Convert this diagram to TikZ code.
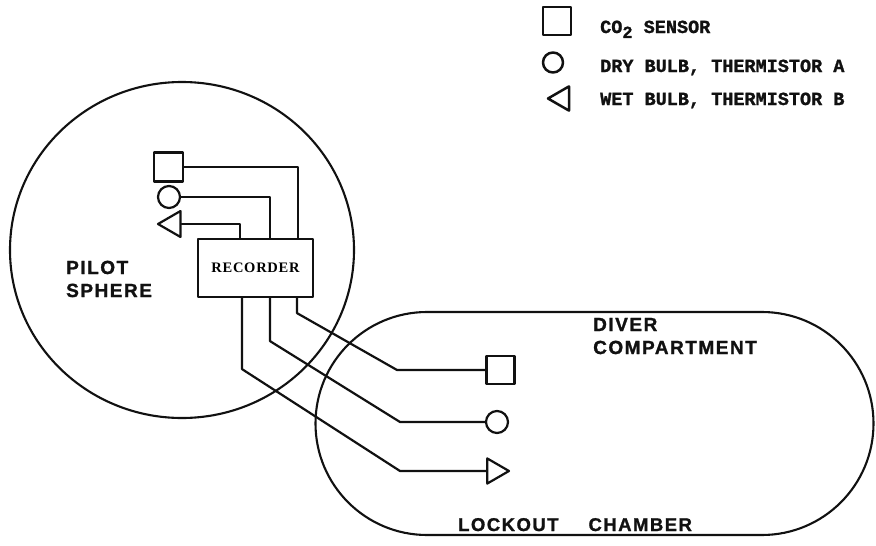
\documentclass[tikz,border=0pt]{standalone}
\usepackage{fontspec}
\setmainfont{Liberation Serif}
\newfontfamily\legendfont[FakeBold=1.2]{Liberation Mono}
\newfontfamily\labelfont[LetterSpace=8, FakeBold=1.2]{Liberation Sans}
\newfontfamily\recfont[LetterSpace=5]{Liberation Serif}
\usetikzlibrary{
  calc,
  shapes.geometric,
  shapes.misc
}
\definecolor{inkC}{HTML}{111111}
\definecolor{paperC}{HTML}{FFFFFF}

\tikzset{
  hull/.style={draw=inkC, line width=2.1pt, inner sep=0pt},
  wire/.style={draw=inkC, line width=2.2pt},
  sqSensor/.style={rectangle, draw=inkC, line width=2.2pt, inner sep=0pt, minimum size=#1},
  sqSensor/.default=28,
  ciSensor/.style={circle, draw=inkC, line width=2.2pt, inner sep=0pt, minimum size=#1},
  ciSensor/.default=22,
  trSensor/.style={regular polygon, regular polygon sides=3, shape border rotate=#1,
    draw=inkC, line width=2.2pt, inner sep=0pt, minimum size=30},
  keyText/.style={anchor=base west, inner sep=0pt, text=inkC,
    font=\legendfont\bfseries\fontsize{18.5}{22}\selectfont},
  roomText/.style={anchor=base west, inner sep=0pt, text=inkC, align=left,
    font=\labelfont\bfseries\fontsize{19}{23}\selectfont}
}

\begin{document}
\begin{tikzpicture}[
  x=1pt,
  y=-1pt,
  line cap=round,
  line join=round
]

\fill[paperC] (0,0) rectangle (876,546);
\path[use as bounding box] (0,0) rectangle (876,546);

% Hulls: pilot sphere and lockout chamber.
\node[hull, ellipse, minimum width=344, minimum height=336] (pilot) at (182,250) {};
\node[hull, rounded rectangle, minimum width=558, minimum height=223] (lockout) at (594.5,423.5) {};

% Recorder.
\node[hull, line width=2.2pt, rectangle, minimum width=115, minimum height=58,
  font=\recfont\bfseries\fontsize{14.5}{18}\selectfont] (rec) at (255.5,268) {RECORDER};

% Sensors in the pilot sphere.
\node[sqSensor=29] (sqA) at (168.5,167) {};
\node[ciSensor] (ciA) at (169,197) {};
\node[trSensor=90] (trA) at (173,224) {};

% Sensors in the diver compartment.
\node[sqSensor=28] (sqB) at (500.5,370) {};
\node[ciSensor] (ciB) at (497,422) {};
\node[trSensor=-90, minimum size=29] (trB) at (494.5,471) {};

% Leads to the recorder.
\draw[wire] (sqA.east) -| ([xshift=42.5pt]rec.north);
\draw[wire] (ciA.east) -| ([xshift=14.5pt]rec.north);
\draw[wire] (trA.east) -| ([xshift=-15.5pt]rec.north);

\draw[wire] ([xshift=41.5pt]rec.south) -- ++(0,15) -- (397,370) -- (sqB.west);
\draw[wire] ([xshift=14.5pt]rec.south) -- ++(0,43) -- (400,422) -- (ciB.west);
\draw[wire] ([xshift=-13.5pt]rec.south) -- ++(0,71) -- (400,471) -- (trB.west);

% Room labels.
\node[roomText] (pilotLbl) at (66,297) {PILOT\\SPHERE};
\node[roomText] (diverLbl) at (593,354) {DIVER\\COMPARTMENT};
\node[roomText, font=\labelfont\bfseries\fontsize{18.5}{22}\selectfont]
  (lockLbl) at (458,531) {LOCKOUT\hspace{30pt}CHAMBER};

% Key.
\node[sqSensor=28, line width=2.5pt] (sqKey) at (557,21) {};
\node[ciSensor=20, line width=2.5pt] (ciKey) at (553,62.5) {};
\node[trSensor=90, minimum size=28, line width=2.5pt] (trKey) at (562,98.5) {};
\foreach \nm/\yy/\txt in {keyA/33/{CO\raisebox{-5pt}{\fontsize{17}{20}\selectfont 2} SENSOR},
                          keyB/72/{DRY BULB, THERMISTOR A},
                          keyC/105/{WET BULB, THERMISTOR B}}{
  \node[keyText] (\nm) at (600,\yy) {\txt};
}

\end{tikzpicture}
\end{document}
